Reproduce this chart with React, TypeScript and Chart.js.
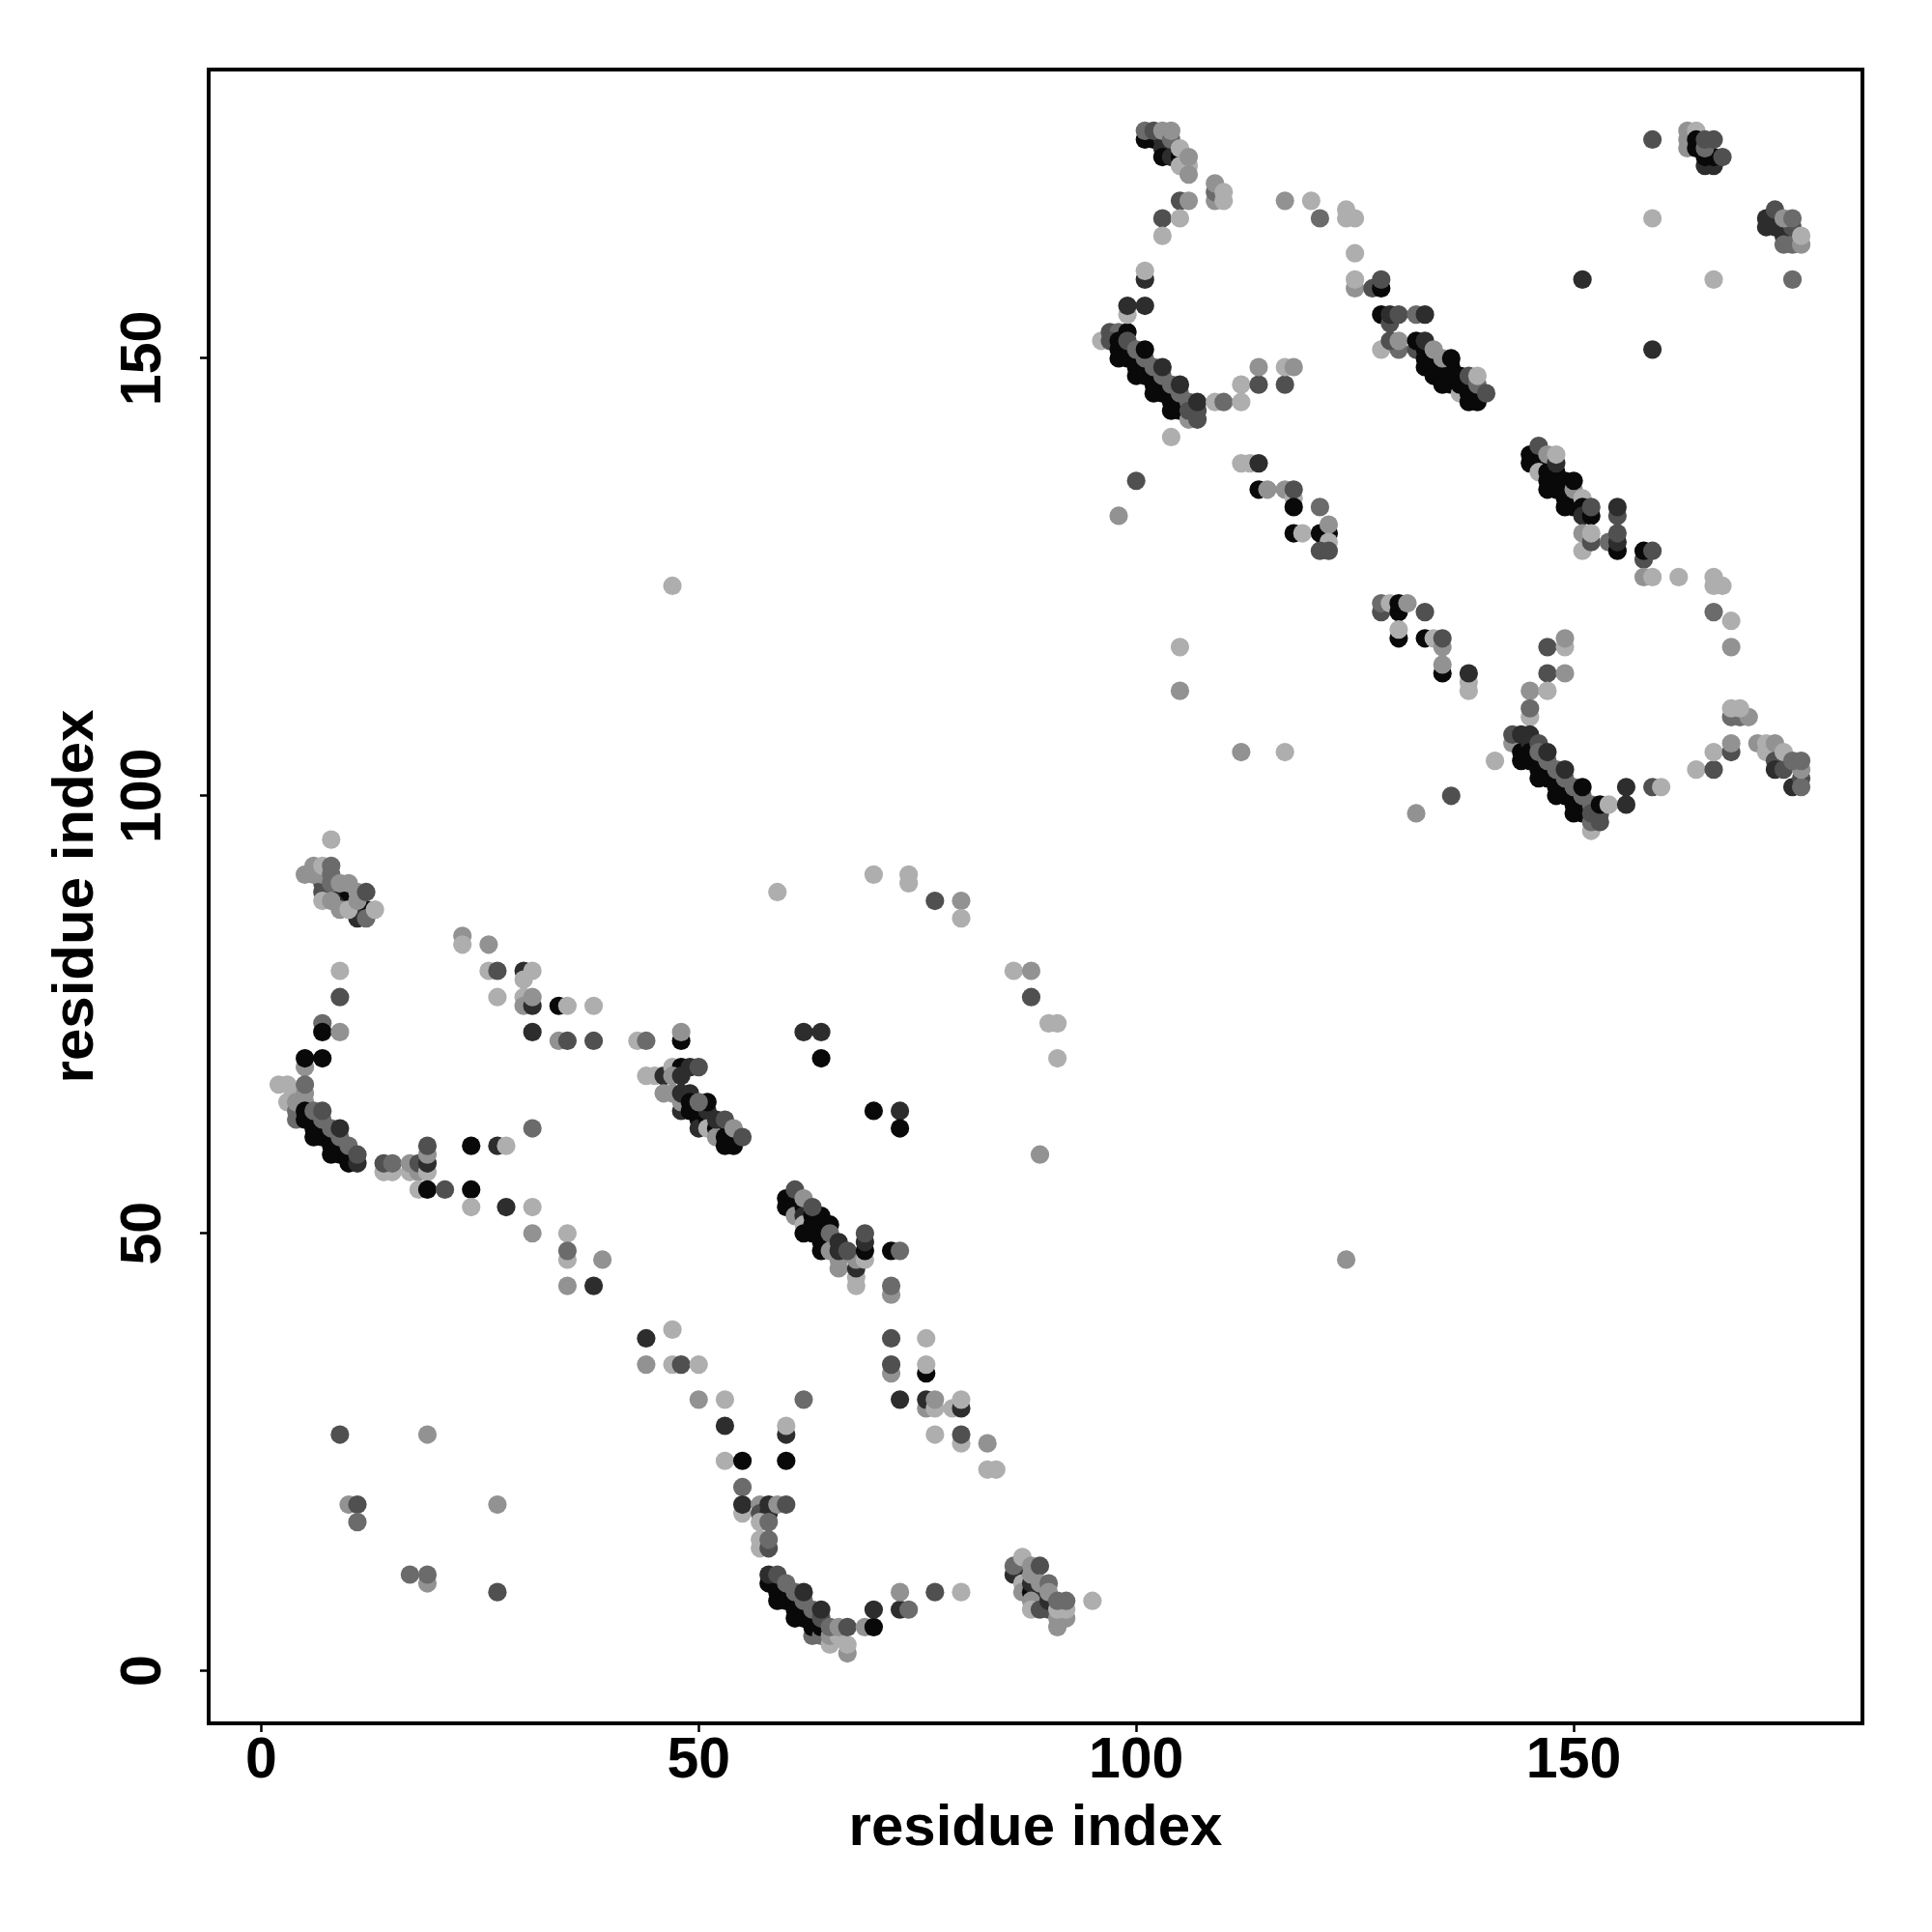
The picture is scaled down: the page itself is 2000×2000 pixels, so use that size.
import React, { useEffect, useRef } from "react";
import { Chart, registerables } from "chart.js";

Chart.register(...registerables);

// contact strength: 0 = faint ... 1 = strongest
const L = 0.02, M = 0.18, G = 0.4, D = 0.55, V = 0.75, B = 0.95;
type Contact = [number, number, number];

const axisTicks = [0, 50, 100, 150];
const axisTitle = "residue index";
const axisMin = -6;
const axisMax = 183;

const helixLowLeft: Contact[] = [
  [5,69,M],[5,70,B],[7,70,B],[2,67,L],[3,67,L],[4,66,L],[3,65,L],[4,64,G],[4,63,G],[4,65,M],[5,66,M],[5,65,M],[5,67,G],
  [5,64,B],[5,63,B],[6,63,B],[6,62,B],[7,62,B],[7,61,B],[6,61,B],[8,61,B],[8,60,B],[8,59,B],[9,60,B],[9,59,B],[10,59,B],[10,58,B],[11,58,V],
  [6,64,G],[7,63,G],[8,62,G],[9,61,G],[10,60,G],[7,64,D],[9,62,V],[11,59,D],
];
const helixTail: Contact[] = [
  [14,57,L],[15,57,L],[14,58,D],[15,58,G],[17,57,L],[17,58,M],[18,57,M],[18,58,D],[19,57,L],[19,58,V],[19,59,M],[19,60,D],
  [18,55,L],[19,55,B],[21,55,D],[24,60,B],[27,60,V],[28,60,L],[24,55,B],[24,53,L],[28,53,V],[31,53,L],[31,62,G],[31,50,M],
  [35,47,L],[35,50,L],[35,48,G],[39,47,M],[35,44,M],[38,44,V],
];
const sparseLowLeft: Contact[] = [
  [9,27,D],[19,27,M],[10,19,M],[11,19,D],[11,17,G],[17,11,G],[19,10,M],[19,11,G],[27,9,D],[27,19,M],
];
const helixUpLeft: Contact[] = [
  [8,95,L],[7,90,D],[7,89,D],[8,89,D],[9,89,V],[9,88,V],[10,88,V],[10,89,B],[11,87,V],[12,87,B],[11,86,V],
  [5,91,M],[6,92,M],[6,91,M],[7,91,M],[8,90,G],[7,88,L],[8,88,M],[9,87,M],[10,87,L],[12,86,G],[7,92,L],[8,92,G],[8,91,G],[9,90,M],[10,90,M],[11,89,M],[11,88,M],[12,89,D],[13,87,L],
];
const upperLeftArc: Contact[] = [
  [9,80,L],[9,77,D],[7,74,G],[7,73,B],[9,73,M],[23,84,M],[23,83,L],[26,83,M],[26,80,L],[27,80,D],[27,77,L],
  [30,80,V],[31,80,L],[30,79,L],[30,77,L],[30,76,M],[31,76,V],[31,77,M],[31,73,V],[34,76,B],[35,76,L],[38,76,L],
  [34,72,M],[35,72,D],[38,72,D],[43,72,L],[44,72,G],[47,124,L],[59,89,L],[70,91,L],[74,90,L],[74,91,L],[77,88,D],[80,88,M],[80,86,L],
  [86,80,L],[88,80,M],[88,77,D],[90,74,L],[91,74,L],[91,70,L],[89,59,M],
];
const helixMidA: Contact[] = [
  [48,72,B],[48,73,M],[44,68,L],[45,68,L],[46,68,V],[47,69,L],[48,69,B],[49,69,V],[50,69,D],[47,68,M],[48,68,V],
  [46,66,M],[47,66,M],[48,64,V],[48,65,M],[48,66,V],[49,66,V],[49,65,B],[49,64,B],[50,64,B],[50,63,B],[50,62,V],[51,63,B],[51,64,V],[51,65,B],[50,65,G],
  [51,62,L],[52,62,B],[52,61,M],[53,61,B],[54,61,B],[53,60,B],[54,60,B],[52,63,V],[53,63,D],[54,62,M],[55,61,D],
];
const helixMidB: Contact[] = [
  [60,54,B],[60,53,B],[61,54,B],[61,53,B],[61,52,M],[62,53,B],[62,52,V],[62,51,L],[62,50,B],[63,52,B],[63,51,B],[63,50,B],[64,52,B],[64,51,B],[64,50,B],[64,49,B],[64,48,B],
  [65,49,B],[65,51,B],[65,50,G],[65,48,M],[61,55,D],[62,54,M],[63,53,D],[66,46,M],[66,47,M],[66,48,V],[66,49,V],[68,44,L],[68,45,L],[68,46,V],[68,47,M],[67,48,D],
  [69,47,L],[69,48,B],[69,49,V],[69,50,D],[72,48,B],[73,48,G],[72,43,M],[72,44,G],[62,73,V],[64,73,V],[64,70,B],[70,64,B],[73,64,V],[73,62,B],
];
const lowMiddle: Contact[] = [
  [44,38,V],[47,39,L],[44,35,M],[47,35,L],[48,35,D],[50,35,L],[50,31,M],[53,31,L],[62,31,G],[53,28,V],[60,27,V],[60,28,L],
  [53,24,L],[55,24,B],[60,24,B],[55,21,G],[55,18,L],[55,19,V],[57,19,M],[57,18,D],[58,19,V],[58,18,V],[59,19,M],[60,19,D],
  [57,17,L],[58,17,G],[57,14,L],[57,15,L],[58,14,D],[58,15,G],
];
const helixBottom: Contact[] = [
  [58,10,B],[58,11,V],[59,9,B],[59,8,B],[60,9,B],[60,8,B],[61,8,B],[61,7,B],[61,6,B],[62,7,B],[62,6,B],[63,6,B],[63,4,G],[63,5,B],[64,4,G],[64,5,B],
  [59,11,D],[60,10,G],[61,9,G],[62,8,G],[63,7,G],[62,9,V],[64,6,D],[64,7,V],[65,3,L],[65,4,M],[66,4,L],[65,5,G],[67,2,M],[67,3,L],[66,5,M],[67,5,D],
  [69,5,M],[70,5,B],[70,7,V],[73,7,V],[74,7,G],[73,9,M],[77,9,D],[80,9,L],
];
const middleRight: Contact[] = [
  [72,38,D],[76,38,L],[72,34,M],[72,35,D],[76,34,B],[76,35,L],[73,31,V],[76,30,M],[76,31,V],[77,30,L],[77,31,M],[79,30,L],[80,30,V],[80,31,L],
  [77,27,L],[80,26,L],[80,27,D],[83,26,M],[83,23,L],[84,23,L],
];
const helixBottomRight: Contact[] = [
  [86,11,V],[87,11,V],[86,12,G],[87,10,L],[87,9,M],[88,9,B],[89,9,V],[88,10,V],[87,13,L],[88,12,M],[88,11,M],[89,12,D],[88,8,M],[88,7,L],[89,10,M],
  [89,7,D],[90,7,D],[90,8,V],[90,10,G],[90,9,M],[91,5,M],[91,6,M],[92,6,M],[91,7,L],[92,7,L],[91,8,G],[92,8,G],[95,8,L],
];
const helixUpperA: Contact[] = [
  [96,152,L],[97,153,D],[98,153,G],[97,152,D],[99,153,B],[98,152,B],[98,151,B],[98,150,B],[99,151,B],[99,150,B],[100,150,B],[100,149,B],[100,148,B],[101,149,B],[101,148,B],
  [102,148,B],[102,147,B],[102,146,B],[103,147,B],[103,146,B],[104,146,B],[104,145,B],[104,144,B],[105,145,B],[105,144,B],
  [99,152,D],[100,151,G],[101,150,G],[102,149,G],[103,148,G],[104,147,G],[105,146,G],[106,145,G],[106,143,M],[107,143,D],[106,144,D],[107,144,D],
  [101,151,B],[103,149,V],[105,147,V],[107,145,V],[109,145,L],[110,145,G],[112,145,L],[112,147,L],[114,147,D],[114,149,M],[117,147,D],[117,149,L],[118,149,M],[104,141,L],
  [99,155,L],[99,156,V],[101,156,V],[101,159,V],[101,160,L],
];
const topArc: Contact[] = [
  [101,175,B],[102,175,B],[103,175,V],[103,174,V],[103,173,B],[104,173,V],[105,173,B],[101,176,G],[102,176,D],[103,176,M],[104,175,G],[104,176,M],[105,172,L],[105,174,L],[106,172,L],[106,171,M],[106,173,M],
  [109,168,M],[109,169,G],[109,170,M],[110,168,L],[110,169,L],[105,168,D],[106,168,M],[103,166,D],[105,166,L],[103,164,L],
  [117,168,M],[120,168,L],[121,166,G],[124,167,L],[124,166,L],[125,166,L],[125,162,L],[125,158,M],[125,159,L],[127,158,D],[128,158,B],[128,159,D],
];
const helixUpperB: Contact[] = [
  [128,155,B],[129,154,D],[129,155,V],[130,155,D],[132,155,G],[133,155,V],[128,151,L],[130,151,G],[129,152,D],[130,152,M],
  [132,151,D],[132,152,B],[133,151,B],[133,150,B],[133,149,B],[134,150,B],[134,149,B],[134,148,B],[135,149,B],[135,148,B],[135,147,B],[136,149,B],[136,148,B],[136,147,B],[137,146,L],[137,148,B],[137,147,B],[133,152,V],[134,151,M],[135,150,M],[136,150,B],
  [138,147,B],[138,146,B],[138,145,B],[139,146,B],[139,145,B],[138,148,D],[139,147,G],[139,148,L],[140,146,D],
];
const helixUpperC: Contact[] = [
  [145,139,B],[145,138,B],[146,139,B],[146,138,B],[146,137,L],[147,137,B],[147,136,B],[147,135,B],[148,137,B],[148,136,B],[148,135,B],[149,136,B],[149,135,B],[149,134,B],[149,133,B],[150,134,B],[150,133,B],
  [146,140,D],[147,139,M],[148,138,V],[148,139,L],[150,135,M],[150,136,B],[151,134,L],[151,133,B],[151,132,V],[152,132,B],[152,133,D],
  [151,130,M],[151,128,L],[152,129,D],[152,130,L],[154,129,G],[155,128,B],[155,129,V],[155,130,D],[155,132,D],[155,133,V],
  [158,127,D],[158,128,B],[159,128,D],[158,125,M],[159,125,L],[162,125,L],[166,124,L],[167,124,L],[166,125,L],[166,121,G],[168,120,L],[168,117,M],
];
const innerUpper: Contact[] = [
  [112,138,L],[113,138,L],[114,138,V],[100,136,D],[98,132,M],[114,135,B],[115,135,M],[117,135,M],[118,134,L],[118,135,D],[118,133,B],[121,133,G],
  [118,130,B],[119,130,L],[121,130,B],[122,130,B],[122,131,M],[122,129,L],[121,128,D],[122,128,D],
  [128,121,D],[128,122,G],[129,122,L],[130,121,B],[130,122,B],[131,122,M],[133,121,D],[130,118,B],[130,119,L],[133,118,B],[134,118,L],[135,117,M],[135,118,D],[135,114,B],[135,115,M],
  [138,112,L],[138,113,L],[138,114,V],[105,117,L],[105,112,M],[147,117,D],[149,117,L],[149,118,M],[147,114,D],[149,114,M],[145,112,M],[147,112,L],[145,109,L],[145,110,G],
];
const helixRight: Contact[] = [
  [143,106,M],[143,107,D],[144,107,V],[144,105,B],[144,104,B],[145,107,V],[145,106,V],[145,105,B],[145,104,B],[146,104,B],[146,103,B],[146,102,B],[147,103,B],[147,102,B],[148,102,B],[148,101,B],[148,100,B],
  [149,101,B],[149,100,B],[150,100,B],[150,99,B],[150,98,B],[151,99,B],[151,98,B],[146,106,D],[146,105,G],[147,104,G],[148,103,G],[149,102,G],[150,101,G],[151,100,G],[152,99,G],[152,96,L],[152,97,G],[153,97,D],[152,98,D],[153,98,D],
  [147,105,V],[149,103,V],[151,101,B],[153,99,B],[154,99,L],[156,99,V],[156,101,V],[159,101,D],[160,101,L],[141,104,L],[136,100,D],[132,98,M],[112,105,M],[117,105,L],
];
const farRight: Contact[] = [
  [164,103,L],[166,103,D],[166,105,L],[168,105,D],[168,106,M],[168,109,G],[169,109,G],[170,109,M],[168,110,L],[169,110,L],
  [171,106,M],[172,105,L],[172,106,L],[173,106,M],[173,104,D],[173,103,V],[174,103,D],[174,105,L],[175,101,V],[176,102,D],[176,101,G],[176,103,M],[175,104,G],[176,104,G],
];
const topRight: Contact[] = [
  [159,175,D],[163,174,M],[163,175,M],[163,176,M],[164,176,L],[164,175,B],[164,174,B],[165,172,V],[166,172,V],[165,173,B],[166,173,B],[165,174,G],[165,175,D],[166,175,D],[167,173,D],
  [159,166,L],[172,166,V],[172,165,V],[173,165,V],[173,167,D],[174,164,V],[174,163,G],[175,163,G],[176,163,M],[175,165,D],[174,166,M],[175,166,G],[176,164,L],
  [151,159,V],[166,159,L],[175,159,G],[159,151,V],[124,47,M],
];

const contacts: Contact[] = [
  ...helixLowLeft, ...helixTail, ...sparseLowLeft, ...helixUpLeft, ...upperLeftArc, ...helixMidA, ...helixMidB,
  ...lowMiddle, ...helixBottom, ...middleRight, ...helixBottomRight, ...helixUpperA, ...topArc, ...helixUpperB,
  ...helixUpperC, ...innerUpper, ...helixRight, ...farRight, ...topRight,
];

const shadeOf = (score: number) => {
  const g = Math.round(178 * (1 - score));
  return `rgb(${g},${g},${g})`;
};

const frame = {
  id: "frame",
  afterDraw(chart: Chart) {
    const { ctx, chartArea: a } = chart;
    ctx.save();
    ctx.strokeStyle = "#000";
    ctx.lineWidth = 4;
    ctx.strokeRect(a.left, a.top, a.right - a.left, a.bottom - a.top);
    ctx.restore();
  },
};

const font = { family: "'Liberation Sans', Arial, sans-serif", weight: "bold" as const, size: 59 };
const titleFont = { ...font, size: 60 };

function axis(extra: object, size: (s: any) => void) {
  return {
    type: "linear" as const,
    min: axisMin,
    max: axisMax,
    afterBuildTicks(s: any) {
      s.ticks = axisTicks.map((value) => ({ value }));
    },
    afterFit: size,
    border: { display: false },
    grid: { drawOnChartArea: false, drawTicks: true, tickLength: 9, tickWidth: 2.5, tickColor: "#000" },
    ...extra,
  };
}

export default function App() {
  const ref = useRef<HTMLCanvasElement>(null);
  useEffect(() => {
    const chart = new Chart(ref.current!, {
      type: "scatter",
      data: {
        datasets: [
          {
            data: contacts.map(([x, y]) => ({ x, y })),
            pointRadius: 9.6,
            pointBorderWidth: 0,
            pointBackgroundColor: contacts.map(([, , s]) => shadeOf(s)),
          },
        ],
      },
      options: {
        animation: false,
        responsive: false,
        devicePixelRatio: 1,
        layout: { padding: { top: 72, right: 72, left: 0, bottom: 0 } },
        plugins: { legend: { display: false }, tooltip: { enabled: false } },
        scales: {
          x: axis(
            {
              position: "bottom",
              ticks: { color: "#000", font, padding: -5, maxRotation: 0, minRotation: 0, autoSkip: false },
              title: { display: true, text: axisTitle, color: "#000", font: titleFont, padding: { top: 0, bottom: 71 } },
            },
            (s) => { s.height = 216; }
          ),
          y: axis(
            {
              position: "left",
              ticks: { color: "#000", font, padding: 8, minRotation: 90, maxRotation: 90, crossAlign: "center", autoSkip: false },
              title: { display: true, text: axisTitle, color: "#000", font: titleFont, padding: { top: 43, bottom: 0 } },
            },
            (s) => { s.width = 216; }
          ),
        },
      },
      plugins: [frame],
    } as any);
    return () => chart.destroy();
  }, []);
  return (
    <canvas
      ref={ref}
      width={2000}
      height={2000}
      style={{ position: "absolute", left: 0, top: 0, width: 2000, height: 2000, background: "#fff" }}
    />
  );
}
